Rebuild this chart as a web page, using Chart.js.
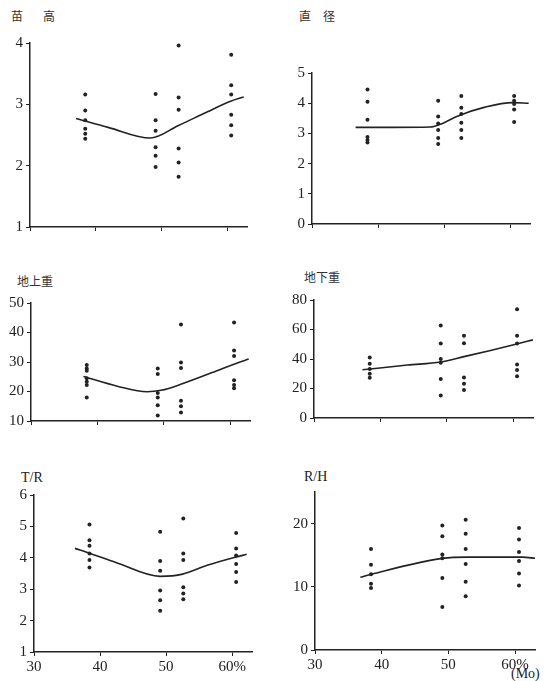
<!DOCTYPE html>
<html>
<head>
<meta charset="utf-8">
<script src="https://cdn.jsdelivr.net/npm/chart.js@4.4.1/dist/chart.umd.min.js"></script>
<style>
  body { margin: 0; background: #fff; }
  #page { position: relative; width: 554px; height: 681px; overflow: hidden; background: #fff; }
  canvas { position: absolute; }
  .lbl { position: absolute; font-family: "Noto Sans CJK JP"; font-size: 12px; color: #333; white-space: nowrap; line-height: 1; }
  .ser { font-family: "Liberation Serif"; font-size: 14px; color: #222; }
</style>
</head>
<body>
<div id="page">
  <div class="lbl" style="left:11px;top:10px;letter-spacing:20px">苗高</div>
  <div class="lbl" style="left:299px;top:10px;letter-spacing:12px">直径</div>
  <div class="lbl" style="left:17px;top:275px">地上重</div>
  <div class="lbl" style="left:304px;top:271px">地下重</div>
  <div class="lbl ser" style="left:21px;top:471px">T/R</div>
  <div class="lbl ser" style="left:304px;top:470px">R/H</div>
  <div class="lbl ser" style="left:511px;top:667px">(Mo)</div>
</div>
<script>
// Mo % column positions (x) shared by all panels
const moColumns = [38.4, 49.1, 52.6, 60.6];
const xTicks = [30, 40, 50, 60];

// 苗高
const heightDots = [
  [3.16, 2.90, 2.74, 2.60, 2.52, 2.44],
  [3.17, 2.74, 2.57, 2.30, 2.16, 1.98],
  [3.96, 3.11, 2.91, 2.28, 2.05, 1.82],
  [3.81, 3.31, 3.16, 2.83, 2.66, 2.49]
];
const heightCurveX = [37, 42, 48.3, 52.5, 57, 60.5, 62.5];
const heightCurveY = [2.77, 2.62, 2.45, 2.65, 2.88, 3.05, 3.12];
const heightTicks = [1, 2, 3, 4];

// 直径
const diamDots = [
  [4.45, 4.05, 3.45, 2.88, 2.78, 2.70],
  [4.08, 3.56, 3.33, 3.11, 2.85, 2.65],
  [4.24, 3.85, 3.64, 3.35, 3.11, 2.85],
  [4.24, 4.08, 3.97, 3.79, 3.38]
];
const diamCurveX = [36.6, 42, 47.9, 49.4, 52.1, 56.2, 60.4, 62.8];
const diamCurveY = [3.2, 3.2, 3.21, 3.3, 3.58, 3.87, 4.02, 4.0];
const diamTicks = [0, 1, 2, 3, 4, 5];

// 地上重
const topDots = [
  [29, 27.8, 27, 24.5, 23.3, 22.2, 18],
  [27.8, 25.9, 19.5, 18, 15.3, 11.9],
  [42.7, 29.8, 28, 16.9, 15, 12.9],
  [43.4, 33.9, 32, 23.8, 22.2, 21.1]
];
const topCurveX = [37.9, 43, 47.5, 49.6, 52.9, 57.3, 61, 62.8];
const topCurveY = [25.1, 21.8, 19.9, 20.4, 22.7, 26.4, 29.6, 31];
const topTicks = [10, 20, 30, 40, 50];

// 地下重
const rootDots = [
  [41, 36.8, 33.2, 30, 27.3],
  [62.7, 50.5, 40, 37.4, 26.4, 15.2],
  [83.8, 55.7, 50.7, 27.5, 23.3, 19],
  [73.7, 55.7, 50.5, 36.3, 32.5, 28.3]
];
const rootCurveX = [37.3, 44.1, 49.1, 52.6, 56.6, 60.4, 63];
const rootCurveY = [32.7, 35.9, 38, 41.6, 45.8, 50, 53];
const rootTicks = [0, 20, 40, 60, 80];

// T/R
const trDots = [
  [5.06, 4.56, 4.38, 4.14, 3.93, 3.69],
  [4.83, 3.90, 3.59, 2.96, 2.65, 2.31],
  [5.25, 4.14, 3.93, 3.06, 2.86, 2.68],
  [4.79, 4.30, 4.07, 3.80, 3.55, 3.23]
];
const trCurveX = [36.2, 38.5, 42.4, 49.1, 52.5, 56.2, 60.3, 62.2];
const trCurveY = [4.3, 4.14, 3.85, 3.41, 3.48, 3.76, 4.01, 4.11];
const trTicks = [1, 2, 3, 4, 5, 6];

// R/H
const rhDots = [
  [16, 13.5, 12, 10.5, 9.8],
  [19.7, 18, 15.1, 14.5, 11.4, 6.8],
  [20.6, 18.4, 16, 13.6, 10.8, 8.5],
  [19.3, 17.5, 15.5, 14.1, 12.1, 10.2]
];
const rhCurveX = [36.8, 38.5, 49.1, 52.9, 61.1, 63.1];
const rhCurveY = [11.5, 12, 14.5, 14.7, 14.7, 14.5];
const rhTicks = [0, 10, 20];

const Y_W = 30, PAD_T = 10, PAD_R = 6;
const ink = '#222';

function makePanel(area, dots, curveX, curveY, yTicks, yMax, showX) {
  const xH = showX ? 26 : 6;
  const left = area.l - Y_W, top = area.t - PAD_T;
  const w = area.r + PAD_R - left, h = area.b + xH - top;
  const cv = document.createElement('canvas');
  cv.width = w; cv.height = h;
  cv.style.left = left + 'px'; cv.style.top = top + 'px';
  document.getElementById('page').appendChild(cv);

  const pts = [];
  dots.forEach((col, i) => col.forEach(v => pts.push({ x: moColumns[i], y: v })));
  const curve = curveX.map((x, i) => ({ x, y: curveY[i] }));

  new Chart(cv.getContext('2d'), {
    type: 'scatter',
    data: {
      datasets: [
        { data: pts, pointRadius: 2, pointBackgroundColor: ink, pointBorderWidth: 0, showLine: false },
        { data: curve, showLine: true, pointRadius: 0, borderColor: ink, borderWidth: 1.6,
          cubicInterpolationMode: 'monotone', fill: false }
      ]
    },
    options: {
      responsive: false, animation: false, devicePixelRatio: 1,
      layout: { padding: { left: 0, right: PAD_R, top: PAD_T, bottom: 0 } },
      plugins: { legend: { display: false }, tooltip: { enabled: false } },
      scales: {
        x: {
          type: 'linear', min: 30, max: 63,
          afterBuildTicks: s => { s.ticks = xTicks.map(v => ({ value: v })); },
          afterFit: s => { s.height = xH; },
          border: { display: true, color: ink, width: 1.5 },
          grid: { drawOnChartArea: false, drawTicks: true, tickLength: 4, color: ink },
          ticks: {
            display: showX, padding: 2, color: ink,
            font: { family: 'Liberation Serif', size: 15 },
            callback: v => v === 60 ? '60%' : String(v)
          }
        },
        y: {
          min: yTicks[0], max: yMax,
          afterBuildTicks: s => { s.ticks = yTicks.map(v => ({ value: v })); },
          afterFit: s => { s.width = Y_W; },
          border: { display: true, color: ink, width: 1.5 },
          grid: { drawOnChartArea: false, drawTicks: true, tickLength: 4, color: ink },
          ticks: { padding: 3, color: ink, font: { family: 'Liberation Serif', size: 15 } }
        }
      }
    }
  });
}

makePanel({ l: 30, r: 247, t: 41, b: 233 }, heightDots, heightCurveX, heightCurveY, heightTicks, 4, false);
makePanel({ l: 312, r: 530, t: 71, b: 230 }, diamDots, diamCurveX, diamCurveY, diamTicks, 5, false);
makePanel({ l: 31, r: 250, t: 301, b: 427 }, topDots, topCurveX, topCurveY, topTicks, 50, false);
makePanel({ l: 314, r: 533, t: 298, b: 424 }, rootDots, rootCurveX, rootCurveY, rootTicks, 80, false);
makePanel({ l: 34, r: 252, t: 493, b: 652 }, trDots, trCurveX, trCurveY, trTicks, 6, true);
makePanel({ l: 315, r: 535, t: 490, b: 650 }, rhDots, rhCurveX, rhCurveY, rhTicks, 25, true);
</script>
</body>
</html>
